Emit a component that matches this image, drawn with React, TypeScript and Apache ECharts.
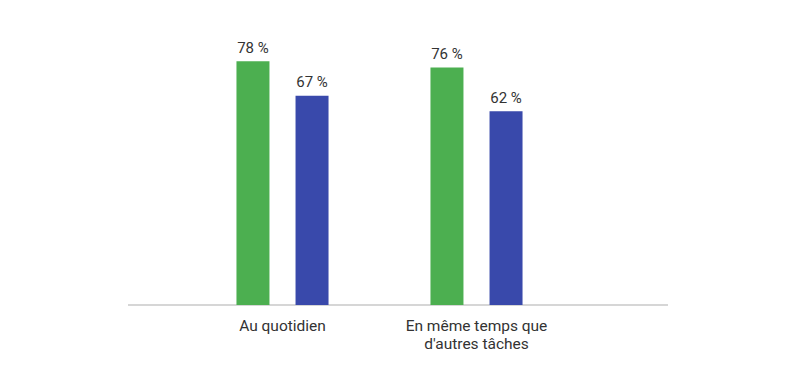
import React, { useEffect, useRef } from "react";
import * as echarts from "echarts";

const categories = ["Au quotidien", "En même temps que\nd'autres tâches"];
const seriesA = [78, 76];
const seriesB = [67, 62];

export default function App() {
  const ref = useRef<HTMLDivElement>(null);
  useEffect(() => {
    if (!ref.current) return;
    const chart = echarts.init(ref.current, undefined, { renderer: "svg" });
    const label = {
      show: true,
      position: "top" as const,
      distance: 6,
      formatter: "{c} %",
      color: "#333333",
      fontSize: 15,
      fontFamily: "Roboto",
    };
    chart.setOption({
      animation: false,
      grid: { left: 185.5, width: 388, top: 55, bottom: 79 },
      xAxis: {
        type: "category",
        data: categories,
        axisLine: { show: false },
        axisTick: { show: false },
        axisLabel: {
          color: "#333333",
          fontSize: 15.5,
          fontFamily: "Roboto",
          margin: 12,
          lineHeight: 18,
        },
      },
      yAxis: {
        type: "value",
        min: 0,
        max: 80,
        show: false,
        splitLine: { show: false },
      },
      graphic: [
        {
          type: "line",
          shape: { x1: 128, y1: 305, x2: 668, y2: 305 },
          style: { stroke: "#c8c8c8", lineWidth: 1.5 },
          z: 0,
        },
      ],
      series: [
        {
          type: "bar",
          data: seriesA,
          barWidth: 33,
          barGap: "79%",
          itemStyle: { color: "#4caf50" },
          label,
        },
        {
          type: "bar",
          data: seriesB,
          barWidth: 33,
          itemStyle: { color: "#3949ab" },
          label,
        },
      ],
    });
    return () => chart.dispose();
  }, []);
  return (
    <div
      ref={ref}
      style={{ position: "absolute", left: 0, top: 0, width: 800, height: 384 }}
    />
  );
}
